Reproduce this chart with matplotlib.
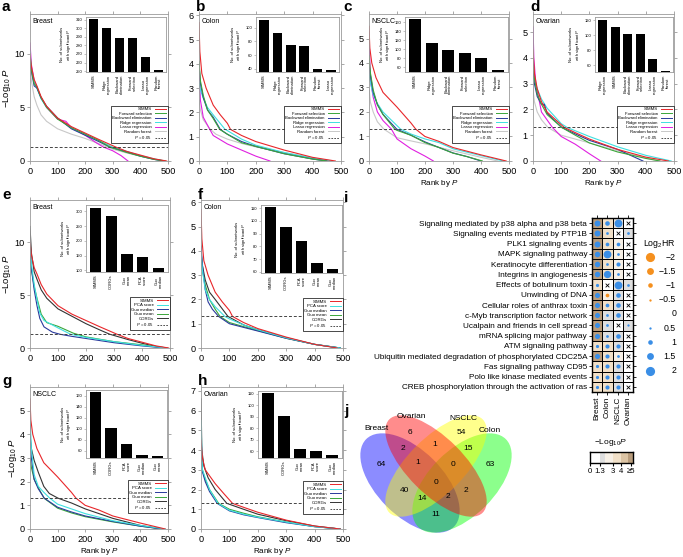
import matplotlib
matplotlib.use('Agg')
import matplotlib.pyplot as plt
from matplotlib.patches import Ellipse
from matplotlib.colors import ListedColormap, BoundaryNorm
from matplotlib.lines import Line2D
import numpy as np

plt.rcParams['font.family'] = ['Liberation Sans', 'DejaVu Sans']
plt.rcParams['mathtext.fontset'] = 'custom'
plt.rcParams['mathtext.rm'] = 'Liberation Sans'
plt.rcParams['mathtext.it'] = 'Liberation Sans:italic'
plt.rcParams['mathtext.bf'] = 'Liberation Sans:bold'

# ---------------- data: curves (rank, -log10 P) ----------------
a_curves = {
    "SIMMS": [(0,10.0),(5,8.8),(15,7.6),(25,7.0),(40,6.0),(60,5.1),(100,4.0),(150,3.2),(200,2.6),(250,2.0),(311,1.3),(350,0.9),(400,0.55),(450,0.2),(495,0)],
    "Forward selection": [(0,9.8),(5,8.5),(15,7.2),(25,6.9),(40,5.9),(60,5.0),(100,3.9),(150,3.1),(200,2.5),(250,1.9),(289,1.3),(350,0.8),(400,0.45),(450,0.15),(490,0)],
    "Backward elimination": [(0,9.6),(5,8.4),(15,7.0),(25,6.8),(40,5.9),(60,5.1),(100,4.0),(130,3.4),(150,3.0),(200,2.4),(250,1.8),(289,1.3),(350,0.85),(400,0.45),(450,0.15),(485,0)],
    "Ridge regression": [(0,10.2),(5,8.7),(15,7.4),(25,6.8),(40,5.8),(60,5.0),(100,4.0),(150,3.1),(200,2.5),(250,1.9),(300,1.3),(350,0.9),(400,0.5),(450,0.2),(490,0)],
    "Lasso regression": [(0,11.0),(5,9.0),(15,7.5),(25,6.9),(40,5.9),(60,5.0),(100,3.9),(130,3.7),(150,3.1),(200,2.4),(240,1.7),(266,1.3),(300,0.95),(330,0.5),(355,0)],
    "Random forest": [(0,9.5),(5,7.5),(15,6.0),(25,5.2),(40,4.3),(60,3.7),(100,3.0),(150,2.5),(200,2.1),(251,1.6),(300,1.1),(350,0.75),(400,0.45),(450,0.15),(480,0)],
}
b_curves = {
    "SIMMS": [(0,5.7),(3,4.5),(10,3.6),(25,3.0),(50,2.3),(75,1.9),(100,1.55),(111,1.3),(150,1.05),(200,0.8),(300,0.45),(400,0.15),(480,0)],
    "Forward selection": [(0,4.1),(5,3.3),(15,2.7),(30,2.1),(50,1.75),(73,1.3),(100,1.1),(150,0.75),(200,0.6),(300,0.3),(400,0.08),(450,0)],
    "Backward elimination": [(0,4.0),(5,3.2),(15,2.6),(30,2.1),(50,1.8),(75,1.3),(100,1.1),(150,0.8),(200,0.6),(300,0.3),(400,0.08),(450,0)],
    "Ridge regression": [(0,3.3),(5,2.9),(15,2.6),(30,2.2),(50,1.9),(92,1.3),(100,1.25),(150,0.9),(200,0.65),(300,0.35),(400,0.12),(470,0)],
    "Lasso regression": [(0,3.8),(5,2.5),(15,1.8),(38,1.3),(50,1.05),(100,0.7),(150,0.45),(200,0.2),(250,0)],
    "Random forest": [(0,2.5),(5,2.1),(15,1.7),(40,1.3),(60,1.1),(100,0.9),(150,0.72),(200,0.58),(300,0.35),(400,0.12),(460,0)],
}
c_curves = {
    "SIMMS": [(0,5.5),(3,4.6),(10,4.0),(25,3.4),(50,2.8),(100,2.2),(150,1.55),(167,1.3),(200,1.0),(250,0.8),(300,0.55),(400,0.25),(490,0)],
    "Forward selection": [(0,4.3),(5,3.6),(15,2.9),(30,2.3),(50,1.9),(92,1.3),(100,1.25),(150,1.05),(200,0.75),(250,0.55),(300,0.32),(350,0.18),(405,0)],
    "Backward elimination": [(0,4.0),(5,3.5),(15,2.8),(30,2.3),(50,1.9),(99,1.3),(150,1.05),(200,0.78),(250,0.55),(300,0.33),(350,0.18),(400,0)],
    "Ridge regression": [(0,3.6),(5,3.2),(15,2.7),(30,2.35),(50,2.0),(113,1.3),(150,1.1),(200,0.9),(250,0.75),(300,0.5),(400,0.22),(480,0)],
    "Lasso regression": [(0,5.3),(5,3.3),(15,2.6),(30,2.0),(50,1.65),(80,1.3),(100,0.9),(150,0.5),(200,0.2),(230,0)],
    "Random forest": [(0,3.0),(5,2.4),(15,2.0),(30,1.6),(53,1.3),(100,0.95),(150,0.82),(200,0.7),(300,0.42),(400,0.15),(460,0)],
}
d_curves = {
    "SIMMS": [(0,4.3),(5,3.4),(15,2.8),(30,2.3),(50,1.9),(80,1.6),(111,1.3),(150,1.1),(200,0.85),(300,0.45),(400,0.15),(480,0)],
    "Forward selection": [(0,4.0),(5,3.2),(15,2.6),(30,2.2),(50,1.8),(102,1.3),(150,1.0),(200,0.7),(300,0.35),(400,0.1),(450,0)],
    "Backward elimination": [(0,3.5),(5,3.0),(15,2.5),(30,2.2),(40,2.2),(50,1.85),(102,1.3),(150,1.05),(200,0.8),(300,0.45),(390,0)],
    "Ridge regression": [(0,3.4),(5,3.2),(15,2.8),(30,2.4),(50,2.05),(100,1.45),(121,1.3),(200,0.95),(300,0.55),(400,0.22),(490,0)],
    "Lasso regression": [(0,5.2),(3,4.0),(10,3.0),(30,1.9),(69,1.3),(100,0.95),(150,0.65),(200,0.28),(240,0)],
    "Random forest": [(0,2.8),(5,2.3),(15,1.9),(30,1.6),(53,1.3),(100,1.0),(150,0.85),(200,0.7),(300,0.4),(400,0.12),(450,0)],
}
e_curves = {
    "SIMMS": a_curves["SIMMS"],
    "PCA score": [(0,10.0),(5,8.0),(15,6.0),(25,4.6),(35,3.3),(50,2.6),(100,1.9),(145,1.3),(200,1.0),(300,0.6),(400,0.25),(490,0)],
    "Guo median": [(0,10.0),(5,7.5),(15,5.5),(25,4.0),(35,2.8),(50,2.0),(80,1.5),(107,1.3),(150,1.1),(200,0.9),(300,0.5),(400,0.2),(480,0)],
    "Guo mean": [(0,9.5),(5,7.5),(15,5.8),(25,4.7),(40,3.2),(60,2.4),(100,2.05),(155,1.4),(200,1.05),(300,0.6),(400,0.3),(480,0)],
    "CORGs": [(0,11.5),(5,9.0),(15,7.2),(25,6.5),(40,5.5),(60,4.7),(100,3.7),(150,3.0),(200,2.3),(250,1.7),(285,1.3),(350,0.8),(400,0.45),(450,0.15),(490,0)],
}
f_curves = {
    "SIMMS": b_curves["SIMMS"],
    "PCA score": [(0,4.0),(5,3.2),(15,2.4),(30,2.0),(50,1.7),(84,1.3),(100,1.2),(150,0.95),(200,0.75),(300,0.42),(400,0.15),(490,0)],
    "Guo median": [(0,4.2),(5,3.4),(15,2.4),(25,1.9),(40,1.6),(62,1.3),(100,1.0),(150,0.85),(200,0.7),(300,0.4),(400,0.15),(490,0)],
    "Guo mean": [(0,3.8),(5,3.2),(15,2.6),(30,2.0),(50,1.6),(67,1.3),(100,1.05),(150,0.88),(200,0.72),(300,0.4),(400,0.15),(490,0)],
    "CORGs": [(0,4.0),(5,3.4),(15,2.8),(30,2.3),(50,2.0),(95,1.3),(150,0.95),(200,0.75),(300,0.42),(400,0.15),(490,0)],
}
g_curves = {
    "SIMMS": c_curves["SIMMS"],
    "PCA score": [(0,4.8),(5,3.4),(15,2.3),(30,1.8),(50,1.55),(72,1.3),(100,1.05),(150,0.85),(200,0.65),(300,0.35),(400,0.15),(490,0)],
    "Guo median": [(0,4.0),(5,3.0),(15,2.1),(30,1.7),(52,1.3),(100,0.92),(150,0.72),(200,0.55),(300,0.32),(400,0.12),(480,0)],
    "Guo mean": [(0,3.0),(5,2.6),(15,2.1),(30,1.75),(51,1.3),(100,0.88),(150,0.68),(200,0.52),(300,0.3),(400,0.12),(480,0)],
    "CORGs": [(0,4.0),(5,3.4),(15,2.9),(30,2.4),(50,1.8),(70,1.5),(102,1.3),(150,1.1),(200,0.85),(300,0.45),(400,0.15),(480,0)],
}
h_curves = {
    "SIMMS": [(0,4.5),(5,3.6),(15,3.0),(30,2.7),(50,2.3),(80,1.8),(111,1.3),(150,1.1),(200,0.85),(300,0.45),(400,0.15),(490,0)],
    "PCA score": [(0,5.5),(5,3.0),(15,2.6),(30,2.0),(60,1.3),(100,0.95),(150,0.75),(200,0.6),(300,0.35),(400,0.12),(490,0)],
    "Guo median": [(0,5.0),(5,2.9),(15,2.4),(30,1.9),(57,1.3),(100,0.92),(150,0.72),(200,0.58),(300,0.32),(400,0.12),(490,0)],
    "Guo mean": [(0,4.5),(5,3.0),(15,2.5),(30,2.0),(62,1.3),(100,1.0),(150,0.8),(200,0.62),(300,0.35),(400,0.12),(490,0)],
    "CORGs": [(0,6.6),(3,4.0),(10,3.2),(25,2.6),(50,2.0),(91,1.3),(150,1.0),(200,0.75),(300,0.42),(400,0.15),(490,0)],
}

# ---------------- data: inset bars ----------------
a_bar_names = ["SIMMS", "Ridge\nregression", "Backward\nelimination", "Forward\nselection", "Lasso\nregression", "Random\nforest"]
a_bar_vals = [311, 300, 289, 289, 266, 251]
b_bar_names = ["SIMMS", "Ridge\nregression", "Backward\nelimination", "Forward\nselection", "Random\nforest", "Lasso\nregression"]
b_bar_vals = [111, 92, 75, 73, 40, 38]
c_bar_names = ["SIMMS", "Ridge\nregression", "Backward\nelimination", "Forward\nselection", "Lasso\nregression", "Random\nforest"]
c_bar_vals = [167, 113, 99, 92, 80, 53]
d_bar_names = ["Ridge\nregression", "SIMMS", "Backward\nelimination", "Forward\nselection", "Lasso\nregression", "Random\nforest"]
d_bar_vals = [121, 111, 102, 102, 69, 53]
e_bar_names = ["SIMMS", "CORGs", "Guo\nmean", "PCA\nscore", "Guo\nmedian"]
e_bar_vals = [311, 285, 155, 145, 107]
f_bar_names = ["SIMMS", "CORGs", "PCA\nscore", "Guo\nmean", "Guo\nmedian"]
f_bar_vals = [111, 95, 84, 67, 62]
g_bar_names = ["SIMMS", "CORGs", "PCA\nscore", "Guo\nmedian", "Guo\nmean"]
g_bar_vals = [167, 102, 72, 52, 51]
h_bar_names = ["SIMMS", "CORGs", "Guo\nmean", "PCA\nscore", "Guo\nmedian"]
h_bar_vals = [111, 91, 62, 60, 57]

# ---------------- data: panel i ----------------
pathways = ["Signaling mediated by p38 alpha and p38 beta", "Signaling events mediated by PTP1B",
            "PLK1 signaling events", "MAPK signaling pathway", "Keratinocyte differentiation",
            "Integrins in angiogenesis", "Effects of botulinum toxin", "Unwinding of DNA",
            "Cellular roles of anthrax toxin", "c-Myb transcription factor network",
            "Ucalpain and friends in cell spread", "mRNA splicing major pathway", "ATM signaling pathway",
            "Ubiquitin mediated degradation of phosphorylated CDC25A", "Fas signaling pathway CD95",
            "Polo like kinase mediated events", "CREB phosphorylation through the activation of ras"]
cancers = ["Breast", "Colon", "NSCLC", "Ovarian"]
nan = float('nan')
hr_breast = [1.3, 1.3, 1.3, 1.2, 1.2, 1.2, 0.7, 1.1, 1.1, 1.1, 1.1, 1.1, 0.7, 1.1, 0.7, 0.7, 0.7]
hr_colon = [1.0, 0.6, 0.8, 1.7, 0.6, 1.6, nan, -0.8, 0.8, 0.6, 0.6, 0.6, 0.9, 0.9, 0.9, 0.9, 0.9]
hr_nsclc = [1.7, nan, 0.8, 0.6, 0.9, 0.6, 1.7, 1.0, 1.0, 1.0, nan, 1.0, 0.9, 0.6, 0.9, 0.9, 0.9]
hr_ovarian = [nan, 0.6, nan, nan, nan, nan, 0.6, nan, nan, nan, 0.5, nan, nan, nan, nan, nan, nan]
lp_breast = [6, 6, 6, 6, 6, 6, 3.5, 6, 6, 6, 6, 6, 3.5, 6, 3.5, 3.5, 3.5]
lp_colon = [3.5, 3.5, 3.5, 3.5, 3.5, 3.5, 0.5, 2.5, 3.5, 1.8, 1.8, 1.8, 3.5, 3.5, 3.5, 3.5, 3.5]
lp_nsclc = [1.8, 0.5, 2.5, 2.5, 2.5, 2.5, 1.8, 1.8, 1.8, 1.8, 0.5, 1.8, 1.8, 2.5, 1.8, 1.8, 1.8]
lp_ovarian = [0.5, 1.8, 0.5, 0.5, 0.5, 0.5, 1.8, 0.5, 0.5, 0.5, 1.8, 0.5, 0.5, 0.5, 0.5, 0.5, 0.5]
hr_legend_vals = [-2, -1.5, -1, -0.5, 0, 0.5, 1, 1.5, 2]
lp_bounds = [0, 1.3, 2, 3, 4, 5, 5.6]
lp_colors = ['#ffffff', '#dedede', '#f7f0e6', '#f1e0c8', '#dcc4a4', '#b89c7c']
lp_tick_vals = [0, 1.3, 3, 4, 5.3]
lp_tick_labels = ["0", "1.3", "3", "4", "≥5"]

# ---------------- data: venn ----------------
venn_sets = ["Breast", "Ovarian", "NSCLC", "Colon"]
venn_counts = [64, 6, 54, 63, 2, 1, 15, 1, 0, 0, 40, 14, 2, 2, 11]

# ---------------- figure ----------------
W, H = 683, 557
fig = plt.figure(figsize=(W / 100, H / 100), dpi=100)


def px_axes(l, t, r, b, **kw):
    return fig.add_axes([l / W, 1 - b / H, (r - l) / W, (b - t) / H], **kw)


method_colors = {"SIMMS": '#e8262a', "Forward selection": '#3aa63a', "Backward elimination": '#2a3a9c',
                 "Ridge regression": '#3ee0e0', "Lasso regression": '#e020e0', "Random forest": '#c8c8c8',
                 "PCA score": '#3ee0e0', "Guo median": '#2a3a9c', "Guo mean": '#3aa63a', "CORGs": '#333333'}
SPINE = '#9a9a9a'


def line_panel(box, ylim, yticks, curves, title, ibox, bnames, bvals, bylim, bticks, leg_box,
               ylabel=False, xlabel=False):
    l, t, r, b = box
    ax = px_axes(l, t, r, b)
    names = list(curves.keys())
    for n in names[::-1]:
        pts = np.array(curves[n])
        ax.plot(pts[:, 0], pts[:, 1], color=method_colors[n], lw=0.8)
    ax.axhline(1.3, color='#444444', lw=0.7, ls=(0, (3, 2)))
    ax.set_xlim(0, 500)
    ax.set_ylim(*ylim)
    ax.set_xticks([0, 100, 200, 300, 400, 500])
    ax.set_yticks(yticks)
    ax.tick_params(labelsize=6.6, length=2.5, width=0.6, color=SPINE, top=True, right=True, pad=1.5)
    for s in ax.spines.values():
        s.set_color(SPINE)
        s.set_linewidth(0.6)
    ax.text(0.02, 0.97, title, transform=ax.transAxes, fontsize=5.0, va='top', ha='left')
    if ylabel:
        ax.set_ylabel('−Log$_{10}$ $P$', fontsize=6.8, labelpad=0.5)
    if xlabel:
        ax.set_xlabel('Rank by $P$', fontsize=5.8, labelpad=1.5)
    handles = [Line2D([], [], color=method_colors[n], lw=0.7) for n in names]
    handles.append(Line2D([], [], color='#333333', lw=0.6, ls=(0, (2, 1.5))))
    labels = names + ['$P$ = 0.05']
    lr, lb = leg_box
    leg = ax.legend(handles, labels, loc='lower right', bbox_to_anchor=(lr / W, 1 - lb / H),
                    bbox_transform=fig.transFigure, fontsize=3.1, frameon=True, fancybox=False,
                    edgecolor='k', framealpha=1, borderpad=0.35, labelspacing=0.12, handlelength=2.6,
                    handletextpad=0.8, borderaxespad=0, markerfirst=False)
    leg.get_frame().set_linewidth(0.5)
    # inset bars
    il, it, ir, ib = ibox
    bx = px_axes(il, it, ir, ib)
    x = np.arange(len(bvals))
    bx.bar(x, bvals, width=0.72, color='black')
    bx.set_xlim(-0.6, len(bvals) - 0.4)
    bx.set_ylim(*bylim)
    bx.set_yticks(bticks)
    bx.set_xticks(x)
    bx.set_xticklabels(bnames, rotation=90, fontsize=3.0, linespacing=1.0)
    bx.tick_params(axis='y', labelsize=3.0, length=1.5, width=0.4, pad=1, color=SPINE)
    bx.tick_params(axis='x', length=0, pad=2)
    bx.set_ylabel('No. of subnetworks\nwith significant $P$', fontsize=3.0, labelpad=2, linespacing=1.1)
    for s in bx.spines.values():
        s.set_color(SPINE)
        s.set_linewidth(0.6)
    return ax


line_panel((30, 14, 168, 161), (0, 13.7), [0, 5, 10], a_curves, "Breast", (86, 17, 166, 72),
           a_bar_names, a_bar_vals, (249, 313), range(250, 311, 10), (168, 143), ylabel=True)
line_panel((199, 14, 341, 161), (0, 6.05), range(0, 7), b_curves, "Colon", (256, 17, 339, 72),
           b_bar_names, b_bar_vals, (35, 116), [40, 60, 80, 100], (341, 143))
line_panel((369, 14, 509, 161), (0, 6.0), range(0, 6), c_curves, "NSCLC", (405, 17, 508, 72),
           c_bar_names, c_bar_vals, (49, 172), range(60, 161, 20), (509, 143), xlabel=True)
line_panel((533, 14, 674, 161), (0, 5.7), range(0, 6), d_curves, "Ovarian", (595, 17, 673, 72),
           d_bar_names, d_bar_vals, (51, 124.5), [60, 80, 100, 120], (674, 143), xlabel=True)
line_panel((30, 200, 170, 348), (0, 14), [0, 5, 10], e_curves, "Breast", (86, 205, 168, 272),
           e_bar_names, e_bar_vals, (94, 322), range(100, 301, 50), (170, 330), ylabel=True)
line_panel((201, 200, 343, 348), (0, 6.1), range(0, 7), f_curves, "Colon", (261, 205, 342, 273),
           f_bar_names, f_bar_vals, (59, 112.6), range(60, 111, 10), (343, 331))
line_panel((30, 387, 168, 529), (0, 6.0), range(0, 6), g_curves, "NSCLC", (86, 390, 167, 458),
           g_bar_names, g_bar_vals, (47, 170), range(60, 161, 20), (168, 513), ylabel=True, xlabel=True)
line_panel((201, 387, 343, 529), (0, 7.2), range(0, 8), h_curves, "Ovarian", (258, 391, 342, 458),
           h_bar_names, h_bar_vals, (54, 112.5), range(60, 111, 10), (343, 514), xlabel=True)

# ---------------- panel i ----------------
iax = px_axes(592, 218, 633, 392)
lp = np.array([lp_breast, lp_colon, lp_nsclc, lp_ovarian]).T
hr = np.array([hr_breast, hr_colon, hr_nsclc, hr_ovarian]).T
cmap = ListedColormap(lp_colors)
norm = BoundaryNorm(lp_bounds, cmap.N)
nr, nc = lp.shape
iax.pcolormesh(np.arange(nc + 1) - 0.5, np.arange(nr + 1) - 0.5, lp, cmap=cmap, norm=norm,
               edgecolors='k', linewidth=0.7)
iax.set_xlim(-0.5, nc - 0.5)
iax.set_ylim(nr - 0.5, -0.5)


def hr_size(v):
    return (3.3 * abs(v)) ** 2


for ri in range(nr):
    for ci in range(nc):
        v = hr[ri, ci]
        if np.isnan(v):
            iax.scatter(ci, ri, marker='x', s=7, c='k', linewidths=0.6, zorder=3)
        else:
            iax.scatter(ci, ri, s=hr_size(v), c='#3a8ee6' if v > 0 else '#f5901e', linewidths=0, zorder=3)
iax.set_yticks(range(nr))
iax.set_yticklabels(pathways, fontsize=5.9)
iax.set_xticks(range(nc))
iax.set_xticklabels(cancers, rotation=90, fontsize=5.9)
iax.tick_params(length=2, width=0.6, top=True, right=True, pad=1.5)
for s in iax.spines.values():
    s.set_linewidth(1.0)

# Log2HR legend
lax = px_axes(640, 235, 683, 380)
lax.set_xlim(640, 683)
lax.set_ylim(380, 235)
lax.axis('off')
lax.text(643, 244, 'Log$_2$HR', fontsize=6.3, va='center', ha='left')
for k, v in enumerate(hr_legend_vals):
    y = 257 + k * 14.2
    if v != 0:
        lax.scatter(650, y, s=hr_size(v), c='#3a8ee6' if v > 0 else '#f5901e', linewidths=0)
    lax.text(676, y, f"{v:g}".replace('-', '−'), fontsize=6.3, va='center', ha='right')

# -log10 P colour bar
cax = px_axes(590, 452, 633, 463)
for k in range(len(lp_colors)):
    cax.axvspan(lp_bounds[k], lp_bounds[k + 1], color=lp_colors[k], lw=0)
cax.set_xlim(0, 5.6)
cax.set_ylim(0, 1)
cax.set_yticks([])
cax.set_xticks(lp_tick_vals)
cax.set_xticklabels(lp_tick_labels, fontsize=5.6)
cax.tick_params(axis='x', length=2.5, width=0.8, pad=1, direction='out')
for s in cax.spines.values():
    s.set_linewidth(1.0)
fig.text(611 / W, 1 - 443 / H, '−Log$_{10}$$P$', fontsize=6, ha='center', va='center')

# ---------------- panel j (venn) ----------------
vax = px_axes(340, 405, 520, 545)
vax.set_xlim(340, 520)
vax.set_ylim(545, 405)
vax.axis('off')
ell_specs = [((410, 483), 124, 66, 45, '#0000ff'),
             ((462, 483), 124, 66, -45, '#00ff00'),
             ((436, 466), 132, 56, -45, '#ffff00'),
             ((436, 466), 132, 56, 45, '#ff0000')]
for (cxy, w, h, ang, col) in ell_specs:
    vax.add_patch(Ellipse(cxy, w, h, angle=ang, facecolor=col, alpha=0.45, lw=0))
venn_label_pos = [(377, 429), (411, 416), (463, 418), (490, 430)]
for name, (x, y) in zip(venn_sets, venn_label_pos):
    vax.text(x, y, name, fontsize=6, ha='center', va='center')
venn_count_pos = [(381, 464), (410, 432), (461, 432), (490, 464), (403, 448), (435, 445), (468, 448),
                  (418, 463), (453, 464), (436, 483), (405, 491), (422, 498), (448, 497), (466, 491), (436, 515)]
for cnt, (x, y) in zip(venn_counts, venn_count_pos):
    vax.text(x, y, str(cnt), fontsize=6, ha='center', va='center')

# ---------------- panel letters ----------------
for letter, (x, y) in {'a': (2, 0), 'b': (196, 0), 'c': (343, 0), 'd': (530, 0), 'e': (2, 188),
                       'f': (198, 188), 'g': (2, 374), 'h': (198, 374), 'i': (344, 191),
                       'j': (344, 404)}.items():
    fig.text(x / W, 1 - y / H, letter, fontsize=11, fontweight='bold', ha='left', va='top')

fig.savefig('out.png', dpi=100)
